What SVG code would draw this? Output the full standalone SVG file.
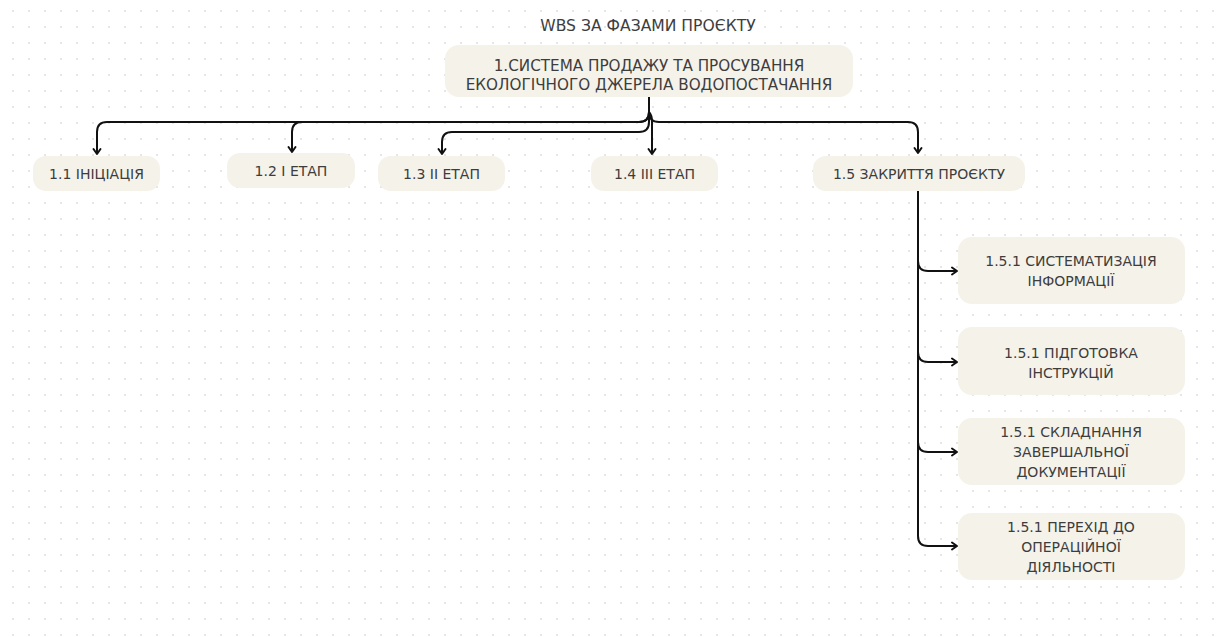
<svg xmlns="http://www.w3.org/2000/svg" width="1221" height="637" viewBox="0 0 1221 637">
  <defs>
    <pattern id="dots" patternUnits="userSpaceOnUse" x="0" y="0" width="16" height="16">
      <rect x="12" y="10" width="2" height="2" fill="#e6e6e6"/>
    </pattern>
    <marker id="arrow" viewBox="0 0 10 10" refX="8" refY="5" markerWidth="10" markerHeight="10" markerUnits="userSpaceOnUse" orient="auto">
      <path d="M3,1.5 L8,5 L3,8.5" fill="none" stroke="#111" stroke-width="2" stroke-linecap="round" stroke-linejoin="round"/>
    </marker>
    <style>
      .box { fill: #f5f2ea; }
      .t { font-family: "DejaVu Sans", "Liberation Sans", sans-serif; fill: #3d3d3d; text-anchor: middle; font-size: 14px; }
      .root { font-size: 15.2px; }
      .title { font-size: 15.6px; }
      .link { fill: none; stroke: #111; stroke-width: 2; marker-end: url(#arrow); }
    </style>
  </defs>

  <rect width="1221" height="637" fill="#ffffff"/>
  <rect width="1221" height="637" fill="url(#dots)"/>

  <text class="t title" x="648" y="31">WBS ЗА ФАЗАМИ ПРОЄКТУ</text>

  <!-- connectors -->
  <g id="connectors">
    <path class="link" d="M649,97 V112 Q649,122 639,122 H107 Q97,122 97,132 V154"/>
    <path class="link" d="M649,97 V112 Q649,122 639,122 H302 Q292,122 292,132 V152"/>
    <path class="link" d="M649,97 V122 Q649,132 639,132 H452 Q442,132 442,142 V154"/>
    <path class="link" d="M649,97 V112 Q652,115 652,122 V154"/>
    <path class="link" d="M649,97 V112 Q649,122 659,122 H908 Q918,122 918,132 V153"/>
    <path class="link" d="M918,190 V261 Q918,271 928,271 H957"/>
    <path class="link" d="M918,190 V352 Q918,362 928,362 H957"/>
    <path class="link" d="M918,190 V442 Q918,452 928,452 H957"/>
    <path class="link" d="M918,190 V536 Q918,546 928,546 H957"/>
  </g>

  <g id="node-1">
    <rect class="box" x="445" y="45" width="408" height="52" rx="14"/>
    <text class="t root" x="649" y="71">1.СИСТЕМА ПРОДАЖУ ТА ПРОСУВАННЯ</text>
    <text class="t root" x="649" y="90">ЕКОЛОГІЧНОГО ДЖЕРЕЛА ВОДОПОСТАЧАННЯ</text>
  </g>

  <g id="node-1-1">
    <rect class="box" x="33" y="156" width="127" height="35" rx="13"/>
    <text class="t" x="96.5" y="178.5">1.1 ІНІЦІАЦІЯ</text>
  </g>
  <g id="node-1-2">
    <rect class="box" x="227" y="153" width="128" height="35" rx="13"/>
    <text class="t" x="291" y="175.5">1.2 І ЕТАП</text>
  </g>
  <g id="node-1-3">
    <rect class="box" x="378" y="156" width="127" height="35" rx="13"/>
    <text class="t" x="441.5" y="178.5">1.3 ІІ ЕТАП</text>
  </g>
  <g id="node-1-4">
    <rect class="box" x="591" y="156" width="127" height="35" rx="13"/>
    <text class="t" x="654.5" y="178.5">1.4 ІІІ ЕТАП</text>
  </g>
  <g id="node-1-5">
    <rect class="box" x="813" y="156" width="212" height="35" rx="13"/>
    <text class="t" x="919" y="178.5">1.5 ЗАКРИТТЯ ПРОЄКТУ</text>
  </g>

  <g id="node-1-5-1a">
    <rect class="box" x="958" y="237" width="227" height="67" rx="14"/>
    <text class="t" x="1071" y="266">1.5.1 СИСТЕМАТИЗАЦІЯ</text>
    <text class="t" x="1071" y="286">ІНФОРМАЦІЇ</text>
  </g>
  <g id="node-1-5-1b">
    <rect class="box" x="958" y="327" width="227" height="68" rx="14"/>
    <text class="t" x="1071" y="358">1.5.1 ПІДГОТОВКА</text>
    <text class="t" x="1071" y="378">ІНСТРУКЦІЙ</text>
  </g>
  <g id="node-1-5-1c">
    <rect class="box" x="958" y="418" width="227" height="67" rx="14"/>
    <text class="t" x="1071" y="437">1.5.1 СКЛАДНАННЯ</text>
    <text class="t" x="1071" y="457">ЗАВЕРШАЛЬНОЇ</text>
    <text class="t" x="1071" y="477">ДОКУМЕНТАЦІЇ</text>
  </g>
  <g id="node-1-5-1d">
    <rect class="box" x="958" y="513" width="227" height="67" rx="14"/>
    <text class="t" x="1071" y="532">1.5.1 ПЕРЕХІД ДО</text>
    <text class="t" x="1071" y="552">ОПЕРАЦІЙНОЇ</text>
    <text class="t" x="1071" y="572">ДІЯЛЬНОСТІ</text>
  </g>
</svg>
